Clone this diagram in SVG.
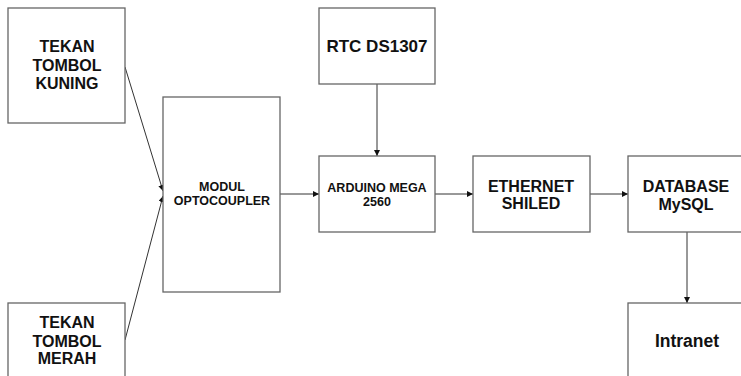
<svg xmlns="http://www.w3.org/2000/svg" width="741" height="376" viewBox="0 0 741 376">
<defs>
<style>
.box{fill:#fff;stroke:#666;stroke-width:1.3}
.t{font-family:"Liberation Sans",Arial,sans-serif;font-weight:bold;fill:#111;text-anchor:middle}
.c{stroke:#333;stroke-width:1;fill:none;marker-end:url(#ah)}
</style>
<marker id="ah" viewBox="0 0 10 10" refX="10" refY="5" markerWidth="6" markerHeight="6" orient="auto" markerUnits="userSpaceOnUse">
<path d="M0,0 L10,5 L0,10 z" fill="#111"/>
</marker>
</defs>
<rect width="741" height="376" fill="#fff"/>
<g id="connectors">
<line class="c" x1="125" y1="67" x2="163" y2="191"/>
<line class="c" x1="125" y1="340" x2="163" y2="196"/>
<line class="c" x1="280" y1="194" x2="319" y2="194"/>
<line class="c" x1="377" y1="84" x2="377" y2="156"/>
<line class="c" x1="435" y1="194" x2="473" y2="194"/>
<line class="c" x1="590" y1="194" x2="628" y2="194"/>
<line class="c" x1="687" y1="232" x2="687" y2="303"/>
</g>
<g id="kuning">
<rect class="box" x="8" y="8" width="117" height="115"/>
<text class="t" font-size="16"><tspan x="67" y="52">TEKAN</tspan><tspan x="67" y="71">TOMBOL</tspan><tspan x="67" y="89">KUNING</tspan></text>
</g>
<g id="merah">
<rect class="box" x="8" y="303" width="117" height="80"/>
<text class="t" font-size="16"><tspan x="67" y="328">TEKAN</tspan><tspan x="67" y="347">TOMBOL</tspan><tspan x="67" y="364">MERAH</tspan></text>
</g>
<g id="optocoupler">
<rect class="box" x="163" y="97" width="117" height="195"/>
<text class="t" font-size="12.5"><tspan x="222" y="191">MODUL</tspan><tspan x="222" y="205">OPTOCOUPLER</tspan></text>
</g>
<g id="rtc">
<rect class="box" x="319" y="8" width="116" height="76"/>
<text class="t" font-size="17" x="377" y="52">RTC DS1307</text>
</g>
<g id="arduino">
<rect class="box" x="319" y="156" width="116" height="76"/>
<text class="t" font-size="12.5"><tspan x="377" y="192">ARDUINO MEGA</tspan><tspan x="377" y="206">2560</tspan></text>
</g>
<g id="ethernet">
<rect class="box" x="473" y="156" width="117" height="76"/>
<text class="t" font-size="16"><tspan x="531" y="192">ETHERNET</tspan><tspan x="531" y="209">SHILED</tspan></text>
</g>
<g id="database">
<rect class="box" x="628" y="156" width="120" height="76"/>
<text class="t" font-size="16"><tspan x="686" y="192">DATABASE</tspan><tspan x="686" y="210">MySQL</tspan></text>
</g>
<g id="intranet">
<rect class="box" x="628" y="303" width="120" height="80"/>
<text class="t" font-size="17.5" x="687" y="347">Intranet</text>
</g>
</svg>
